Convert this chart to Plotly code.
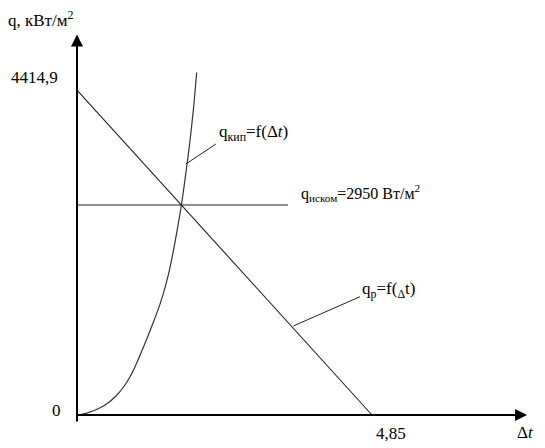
import plotly.graph_objects as go

# Data
q_max = 4414.9          # kW/m2, intercept of q_p line
dt_max = 4.85           # intercept on Δt axis
q_iskom = 2853          # drawn level of q_иском line
q_iskom_end = 3.47      # length of the horizontal line on Δt axis

kip_dt = [0.0, 0.148, 0.312, 0.444, 0.625, 0.789, 0.926, 1.090, 1.228, 1.365,
          1.475, 1.557, 1.639, 1.718, 1.800, 1.850, 1.912, 1.968]
kip_q = [0, 23, 71, 125, 245, 408, 605, 917, 1202, 1507,
         1816, 2115, 2475, 2860, 3349, 3671, 4135, 4652]

p_dt = [0.0, dt_max]
p_q = [q_max, 0.0]

FONT = "Liberation Serif, Times New Roman, serif"
fs = 17

fig = go.Figure()

fig.add_trace(go.Scatter(x=kip_dt, y=kip_q, mode="lines",
                         line=dict(color="#333333", width=1.2, shape="spline", smoothing=0.7),
                         hoverinfo="skip"))
fig.add_trace(go.Scatter(x=p_dt, y=p_q, mode="lines",
                         line=dict(color="#222222", width=1.1), hoverinfo="skip"))
fig.add_trace(go.Scatter(x=[0.0, q_iskom_end], y=[q_iskom, q_iskom], mode="lines",
                         line=dict(color="#222222", width=1.1), hoverinfo="skip"))
# leader lines
fig.add_trace(go.Scatter(x=[1.79, 2.285], y=[3410, 3682], mode="lines",
                         line=dict(color="#222222", width=1), hoverinfo="skip"))
fig.add_trace(go.Scatter(x=[3.557, 4.653], y=[1209, 1607], mode="lines",
                         line=dict(color="#222222", width=1), hoverinfo="skip"))

ann = []
# axes with arrows
ann.append(dict(x=7.40, y=0, ax=-0.02, ay=0, xref="x", yref="y", axref="x", ayref="y",
                showarrow=True, arrowhead=2, arrowsize=1.2, arrowwidth=2, arrowcolor="black", text=""))
ann.append(dict(x=0, y=5170, ax=0, ay=-110, xref="x", yref="y", axref="x", ayref="y",
                showarrow=True, arrowhead=2, arrowsize=1.2, arrowwidth=2, arrowcolor="black", text=""))

def txt(x, y, t, xanchor="left", xshift=0, yshift=0, size=fs):
    ann.append(dict(x=x, y=y, xref="x", yref="y", text=t, showarrow=False,
                    xanchor=xanchor, yanchor="middle", xshift=xshift, yshift=yshift,
                    font=dict(family=FONT, size=size, color="black")))

ann.append(dict(x=0, y=1, xref="paper", yref="paper", text="q, кВт/м<sup>2</sup>",
                showarrow=False, xanchor="left", yanchor="top", xshift=-2, yshift=2,
                font=dict(family=FONT, size=fs, color="black")))
txt(0, q_max, "4414,9", xanchor="right", xshift=-17, yshift=13)
txt(0, 0, "0", xanchor="right", xshift=-14, yshift=5)
txt(dt_max, 0, "4,85", xshift=2, yshift=-18)
txt(7.20, 0, "Δ<i>t</i>", yshift=-17)
txt(2.30, 3830, "q<sub>кип</sub>=f(Δ<i>t</i>)")
txt(3.65, 3016, "q<sub>иском</sub>=2950 Вт/м<sup>2</sup>", size=16)
txt(4.66, 1698, "q<sub>р</sub>=f(<sub>Δ</sub>t)")

# page has an 8px body margin: figure spans page px 8..545 x 8..448
fig.update_layout(
    width=537, height=440,
    margin=dict(l=0, r=0, t=0, b=0),
    paper_bgcolor="white", plot_bgcolor="white",
    showlegend=False,
    font=dict(family=FONT),
    annotations=ann,
    xaxis=dict(range=[(8 - 77) / 60.82, (545 - 77) / 60.82], visible=False, fixedrange=True),
    yaxis=dict(range=[(415 - 448) / 0.07361, (415 - 8) / 0.07361], visible=False, fixedrange=True),
)

fig.write_html("out.html")
